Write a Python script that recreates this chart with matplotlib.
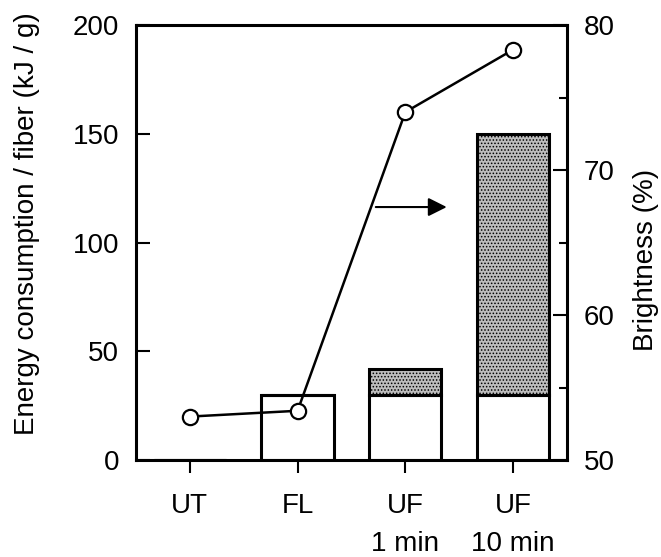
import numpy as np
import matplotlib.pyplot as plt

plt.rcParams['font.family'] = ['Liberation Sans', 'DejaVu Sans']
plt.rcParams['hatch.color'] = '#555555'
plt.rcParams['hatch.linewidth'] = 0.7

# data
categories = ['UT', 'FL', 'UF\n1 min', 'UF\n10 min']
energy_base = [0, 30, 30, 30]        # kJ/g, white part
energy_extra = [0, 0, 12, 120]       # kJ/g, shaded part
brightness = [53.0, 53.4, 74.0, 78.3]  # %

x = np.arange(len(categories))
fs = 20

fig = plt.figure(figsize=(6.61, 5.57), dpi=100)
ax = fig.add_axes([0.2057, 0.174, 0.652, 0.781])

ax.bar(x, energy_base, width=0.67, color='white', edgecolor='black', linewidth=2.2, zorder=2)
ax.bar(x, energy_extra, width=0.67, bottom=energy_base, color='#bdbdbd',
       edgecolor='black', linewidth=2.2, hatch='.....', zorder=2)

ax.set_xlim(-0.5, 3.5)
ax.set_ylim(0, 200)
ax.set_yticks([0, 50, 100, 150, 200])
ax.set_xticks(x)
ax.set_xticklabels(categories, fontsize=fs, linespacing=1.6)
ax.tick_params(axis='y', direction='in', length=10, width=1.5, labelsize=fs, pad=12)
ax.tick_params(axis='x', direction='out', length=9, width=1.5, pad=15)
for s in ax.spines.values():
    s.set_linewidth(2.2)
ax.set_ylabel('Energy consumption / fiber (kJ / g)', fontsize=fs)
ax.yaxis.set_label_coords(-0.222, 0.543)

ax2 = ax.twinx()
ax2.plot(x, brightness, color='black', linewidth=1.8, marker='o', markersize=11,
         markerfacecolor='white', markeredgecolor='black', markeredgewidth=1.6, zorder=3)
ax2.set_ylim(50, 80)
ax2.set_yticks([50, 60, 70, 80])
ax2.set_yticks([55, 65, 75], minor=True)
ax2.tick_params(axis='y', which='major', direction='in', length=10, width=1.5, labelsize=fs, pad=12)
ax2.tick_params(axis='y', which='minor', direction='in', length=6, width=1.5)
ax2.set_ylabel('Brightness (%)', fontsize=fs)
ax2.yaxis.set_label_coords(1.153, 0.46)

ax2.annotate('', xy=(2.41, 67.45), xytext=(1.70, 67.45),
             arrowprops=dict(arrowstyle='-|>', color='black', lw=1.5, mutation_scale=28))

fig.savefig('out.png', dpi=100)
